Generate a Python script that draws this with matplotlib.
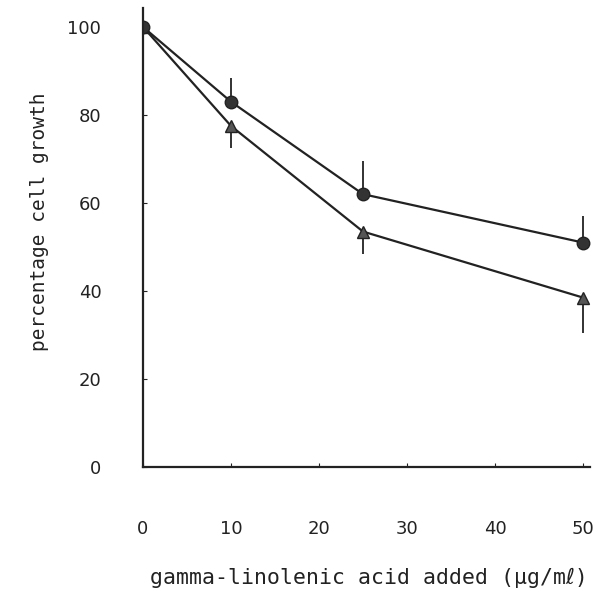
import matplotlib.pyplot as plt

# gamma-linolenic acid added (ug/ml)
dose = [0, 10, 25, 50]

# circles (upper curve), error drawn upwards
circle_growth = [100, 83, 62, 51]
circle_err_up = [0, 5.5, 7.5, 6]

# triangles (lower curve), error drawn downwards
triangle_growth = [100, 77.5, 53.5, 38.5]
triangle_err_down = [0, 5, 5, 8]

xticks = [0, 10, 20, 30, 40, 50]
yticks = [0, 20, 40, 60, 80, 100]

fig = plt.figure(figsize=(5.93, 5.92), dpi=100)
ax = fig.add_axes([143 / 593, (592 - 467) / 592, 447 / 593, 459 / 592])

ink = '#222222'
mono = ['DejaVu Sans Mono', 'DejaVu Sans', 'Noto Sans CJK JP']

ax.errorbar(dose, triangle_growth, yerr=[triangle_err_down, [0] * 4],
            fmt='none', ecolor=ink, elinewidth=1.3, capsize=0)
ax.errorbar(dose, circle_growth, yerr=[[0] * 4, circle_err_up],
            fmt='none', ecolor=ink, elinewidth=1.3, capsize=0)
ax.plot(dose, triangle_growth, color=ink, lw=1.6, marker='^', ms=9,
        markerfacecolor='#555555', markeredgecolor=ink)
ax.plot(dose, circle_growth, color=ink, lw=1.6, marker='o', ms=9,
        markerfacecolor='#333333', markeredgecolor=ink)

ax.set_xlim(0, 50.8)
ax.set_ylim(0, 104.3)
for side in ['top', 'right']:
    ax.spines[side].set_visible(False)
for side in ['left', 'bottom']:
    ax.spines[side].set_linewidth(1.6)
    ax.spines[side].set_color(ink)

ax.set_xticks(xticks)
ax.set_yticks(yticks)
ax.tick_params(axis='x', direction='in', length=3, pad=38, labelsize=13, colors=ink)
ax.tick_params(axis='y', direction='in', length=3, pad=30, labelsize=13, colors=ink)

fig.text(40 / 593, 1 - 222 / 592, 'percentage cell growth', rotation=90,
         ha='center', va='center', family=mono, fontsize=14, color=ink)
fig.text(369 / 593, 1 - 578 / 592, 'gamma-linolenic acid added (\u00b5g/m\u2113)',
         ha='center', va='center', family=mono, fontsize=15.5, color=ink)

fig.savefig('out.png', dpi=100)
